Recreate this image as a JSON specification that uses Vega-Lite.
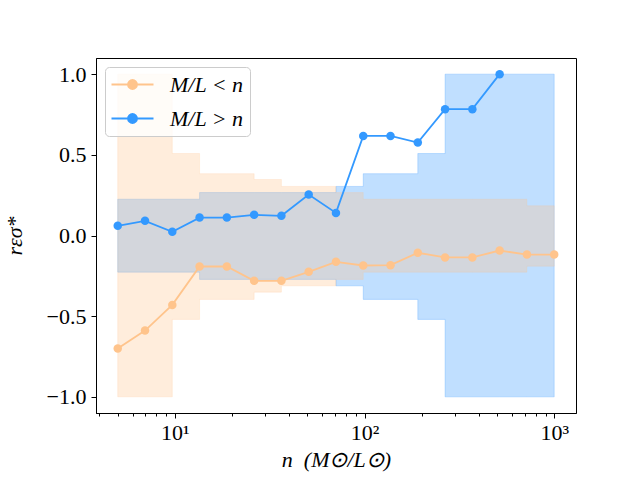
{
  "$schema": "https://vega.github.io/schema/vega-lite/v6.json",
  "width": 480,
  "height": 355,
  "autosize": "none",
  "padding": {"left": 96, "top": 58, "right": 64, "bottom": 67},
  "background": "white",
  "config": {
    "view": {"stroke": "black", "strokeWidth": 1},
    "font": "Liberation Serif",
    "axis": {
      "grid": false,
      "domainColor": "black",
      "domainWidth": 1,
      "tickColor": "black",
      "tickWidth": 1,
      "tickSize": 5,
      "labelColor": "black",
      "labelFont": "Liberation Serif",
      "labelFontSize": 22,
      "titleColor": "black",
      "titleFont": "Liberation Serif",
      "titleFontSize": 22,
      "titleFontWeight": "normal",
      "titleFontStyle": "italic"
    }
  },
  "datasets": {
    "bands": [
      {"group": "M/L > n", "n": 5.0, "lo": -0.227, "hi": 0.225},
      {"group": "M/L > n", "n": 6.963, "lo": -0.227, "hi": 0.225},
      {"group": "M/L > n", "n": 9.696, "lo": -0.227, "hi": 0.225},
      {"group": "M/L > n", "n": 13.502, "lo": -0.272, "hi": 0.266},
      {"group": "M/L > n", "n": 18.802, "lo": -0.272, "hi": 0.266},
      {"group": "M/L > n", "n": 26.183, "lo": -0.272, "hi": 0.266},
      {"group": "M/L > n", "n": 36.461, "lo": -0.272, "hi": 0.266},
      {"group": "M/L > n", "n": 50.775, "lo": -0.272, "hi": 0.266},
      {"group": "M/L > n", "n": 70.707, "lo": -0.312, "hi": 0.304},
      {"group": "M/L > n", "n": 98.464, "lo": -0.396, "hi": 0.383},
      {"group": "M/L > n", "n": 137.12, "lo": -0.396, "hi": 0.383},
      {"group": "M/L > n", "n": 190.94, "lo": -0.52, "hi": 0.508},
      {"group": "M/L > n", "n": 265.9, "lo": -1.0, "hi": 1.0},
      {"group": "M/L > n", "n": 370.28, "lo": -1.0, "hi": 1.0},
      {"group": "M/L > n", "n": 515.64, "lo": -1.0, "hi": 1.0},
      {"group": "M/L > n", "n": 718.06, "lo": -1.0, "hi": 1.0},
      {"group": "M/L > n", "n": 1000.0, "lo": -1.0, "hi": 1.0},
      {"group": "M/L < n", "n": 5.0, "lo": -1.0, "hi": 1.0},
      {"group": "M/L < n", "n": 6.963, "lo": -1.0, "hi": 1.0},
      {"group": "M/L < n", "n": 9.696, "lo": -0.52, "hi": 0.508},
      {"group": "M/L < n", "n": 13.502, "lo": -0.396, "hi": 0.383},
      {"group": "M/L < n", "n": 18.802, "lo": -0.396, "hi": 0.383},
      {"group": "M/L < n", "n": 26.183, "lo": -0.351, "hi": 0.347},
      {"group": "M/L < n", "n": 36.461, "lo": -0.312, "hi": 0.304},
      {"group": "M/L < n", "n": 50.775, "lo": -0.312, "hi": 0.304},
      {"group": "M/L < n", "n": 70.707, "lo": -0.272, "hi": 0.266},
      {"group": "M/L < n", "n": 98.464, "lo": -0.227, "hi": 0.225},
      {"group": "M/L < n", "n": 137.12, "lo": -0.227, "hi": 0.225},
      {"group": "M/L < n", "n": 190.94, "lo": -0.227, "hi": 0.225},
      {"group": "M/L < n", "n": 265.9, "lo": -0.227, "hi": 0.225},
      {"group": "M/L < n", "n": 370.28, "lo": -0.227, "hi": 0.225},
      {"group": "M/L < n", "n": 515.64, "lo": -0.227, "hi": 0.225},
      {"group": "M/L < n", "n": 718.06, "lo": -0.19, "hi": 0.184},
      {"group": "M/L < n", "n": 1000.0, "lo": -0.19, "hi": 0.184}
    ],
    "points": [
      {"group": "M/L < n", "n": 5.0, "r": -0.70},
      {"group": "M/L < n", "n": 6.963, "r": -0.589},
      {"group": "M/L < n", "n": 9.696, "r": -0.43},
      {"group": "M/L < n", "n": 13.502, "r": -0.192},
      {"group": "M/L < n", "n": 18.802, "r": -0.192},
      {"group": "M/L < n", "n": 26.183, "r": -0.281},
      {"group": "M/L < n", "n": 36.461, "r": -0.281},
      {"group": "M/L < n", "n": 50.775, "r": -0.225},
      {"group": "M/L < n", "n": 70.707, "r": -0.163},
      {"group": "M/L < n", "n": 98.464, "r": -0.186},
      {"group": "M/L < n", "n": 137.12, "r": -0.184},
      {"group": "M/L < n", "n": 190.94, "r": -0.107},
      {"group": "M/L < n", "n": 265.9, "r": -0.136},
      {"group": "M/L < n", "n": 370.28, "r": -0.136},
      {"group": "M/L < n", "n": 515.64, "r": -0.093},
      {"group": "M/L < n", "n": 718.06, "r": -0.118},
      {"group": "M/L < n", "n": 1000.0, "r": -0.118},
      {"group": "M/L > n", "n": 5.0, "r": 0.060},
      {"group": "M/L > n", "n": 6.963, "r": 0.091},
      {"group": "M/L > n", "n": 9.696, "r": 0.023},
      {"group": "M/L > n", "n": 13.502, "r": 0.111},
      {"group": "M/L > n", "n": 18.802, "r": 0.111},
      {"group": "M/L > n", "n": 26.183, "r": 0.128},
      {"group": "M/L > n", "n": 36.461, "r": 0.122},
      {"group": "M/L > n", "n": 50.775, "r": 0.254},
      {"group": "M/L > n", "n": 70.707, "r": 0.140},
      {"group": "M/L > n", "n": 98.464, "r": 0.617},
      {"group": "M/L > n", "n": 137.12, "r": 0.617},
      {"group": "M/L > n", "n": 190.94, "r": 0.576},
      {"group": "M/L > n", "n": 265.9, "r": 0.783},
      {"group": "M/L > n", "n": 370.28, "r": 0.783},
      {"group": "M/L > n", "n": 515.64, "r": 1.0}
    ]
  },
  "layer": [
    {
      "data": {"name": "bands"},
      "transform": [{"filter": "datum.group === 'M/L > n'"}],
      "mark": {
        "type": "area",
        "interpolate": "step-after",
        "fill": "#3399ff",
        "fillOpacity": 0.31,
        "stroke": "#3399ff",
        "strokeOpacity": 0.25,
        "strokeWidth": 1
      },
      "encoding": {
        "x": {
          "field": "n",
          "type": "quantitative",
          "scale": {"type": "log", "domain": [3.84, 1303], "nice": false},
          "axis": {
            "orient": "bottom",
            "values": [10, 100, 1000],
            "labelExpr": "datum.value == 10 ? '10¹' : datum.value == 100 ? '10²' : '10³'",
            "labelPadding": 4,
            "title": "n\u00a0\u00a0(M⊙/L⊙)",
            "titlePadding": 6
          }
        },
        "y": {
          "field": "hi",
          "type": "quantitative",
          "scale": {"domain": [-1.1, 1.1], "nice": false, "zero": false},
          "title": "rεσ*",
          "axis": {
            "values": [-1, -0.5, 0, 0.5, 1],
            "format": ".1f",
            "labelExpr": "replace(datum.label, '-', '−')",
            "labelPadding": 5,
            "titlePadding": 20
          }
        },
        "y2": {"field": "lo"}
      }
    },
    {
      "data": {"name": "bands"},
      "transform": [{"filter": "datum.group === 'M/L < n'"}],
      "mark": {
        "type": "area",
        "interpolate": "step-after",
        "fill": "#ffc48c",
        "fillOpacity": 0.3,
        "stroke": "#ffc48c",
        "strokeOpacity": 0.2,
        "strokeWidth": 1
      },
      "encoding": {
        "x": {
          "field": "n",
          "type": "quantitative",
          "axis": {
            "orient": "bottom",
            "values": [4, 5, 6, 7, 8, 9, 20, 30, 40, 50, 60, 70, 80, 90, 200, 300, 400, 500, 600, 700, 800, 900],
            "labels": false,
            "domain": false,
            "tickSize": 3,
            "title": null
          }
        },
        "y": {"field": "hi", "type": "quantitative", "title": "rεσ*"},
        "y2": {"field": "lo"}
      }
    },
    {
      "data": {"name": "points"},
      "mark": {
        "type": "line",
        "strokeWidth": 1.8,
        "point": {"filled": true, "size": 72}
      },
      "encoding": {
        "x": {"field": "n", "type": "quantitative", "axis": null},
        "y": {"field": "r", "type": "quantitative", "title": "rεσ*"},
        "color": {
          "field": "group",
          "type": "nominal",
          "scale": {"domain": ["M/L < n", "M/L > n"], "range": ["#ffc48c", "#3399ff"]},
          "legend": {
            "title": null,
            "orient": "top-left",
            "offset": 9,
            "padding": 6,
            "fillColor": "rgba(255,255,255,0.8)",
            "strokeColor": "#cccccc",
            "cornerRadius": 4,
            "labelFont": "Liberation Serif",
            "labelFontStyle": "italic",
            "labelFontSize": 22,
            "labelColor": "black",
            "labelOffset": 26,
            "rowPadding": 11,
            "symbolType": "M-2,0L2,0M-0.43,0A0.43,0.43,0,1,0,0.43,0A0.43,0.43,0,1,0,-0.43,0Z",
            "symbolSize": 441,
            "symbolOffset": 10,
            "symbolStrokeWidth": 1.8,
            "symbolOpacity": 1,
            "encode": {
              "symbols": {
                "update": {
                  "fill": {"scale": "color", "field": "value"},
                  "stroke": {"scale": "color", "field": "value"}
                }
              }
            }
          }
        }
      }
    }
  ],
  "resolve": {"axis": {"x": "independent"}}
}
